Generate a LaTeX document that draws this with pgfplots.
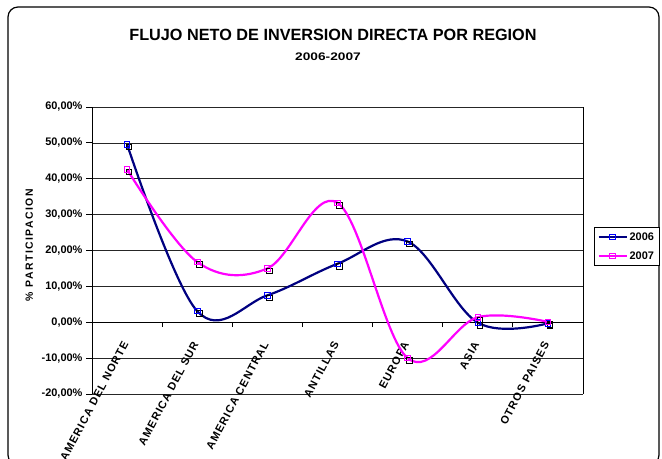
\documentclass[border=0pt]{standalone}
\usepackage{fontspec}
\setmainfont{Liberation Sans}
\usepackage{pgfplots}
\pgfplotsset{compat=1.18}
\definecolor{navyA}{RGB}{0,0,128}
\definecolor{magB}{RGB}{255,0,255}
\begin{document}
\begin{tikzpicture}[x=1bp,y=1bp]
\useasboundingbox (0,0) rectangle (662,459);
\clip (0,0) rectangle (662,459);
\draw[black, line width=1.2bp, rounded corners=10bp] (8,-6) rectangle (659,452);
\node[font=\bfseries\fontsize{16.3}{19}\selectfont] at (333,424) {FLUJO NETO DE INVERSION DIRECTA POR REGION};
\node[font=\bfseries\fontsize{11}{13}\selectfont] at (328,402) {\scalebox{1.25}[1]{2006-2007}};
\begin{axis}[
  at={(92bp,65bp)}, anchor=south west,
  scale only axis, width=491bp, height=287bp,
  xmin=-0.5, xmax=6.5, ymin=-20, ymax=60,
  axis x line*=middle, axis y line*=box,
  axis line style={black, line width=0.9bp},
  ytick={-20,-10,...,60}, ytick pos=left,
  ymajorgrids, major grid style={black!85, line width=0.7bp},
  /pgf/number format/assume math mode=true,
  yticklabel={\pgfmathprintnumber[fixed,fixed zerofill,precision=2,use comma]{\tick}\%},
  tick label style={font=\bfseries\fontsize{11}{13}\selectfont},
  y tick style={black, line width=0.8bp},
  tick align=outside, major tick length=6bp,
  xtick={0,...,6},
  xticklabels={AMERICA DEL NORTE, AMERICA DEL SUR, AMERICA CENTRAL, ANTILLAS, EUROPA, ASIA, OTROS PAISES},
  x tick style={draw=none},
  xticklabel style={rotate=62, anchor=east, font=\bfseries\fontsize{11}{13}\selectfont\addfontfeature{LetterSpace=10}},
  xticklabel shift=11bp,
  ylabel={\% PARTICIPACION},
  ylabel style={at={(axis description cs:-0.128,0.519)}, anchor=center, font=\bfseries\fontsize{10.5}{12}\selectfont\addfontfeature{LetterSpace=14}},
  legend style={at={(1.0224,0.582)}, anchor=north west, draw=black, line width=0.8bp,
    font=\bfseries\fontsize{11}{13}\selectfont, inner sep=3bp, row sep=6bp},
  legend image code/.code={\draw[mark repeat=2,mark phase=2] plot coordinates {(0bp,0bp) (14bp,0bp) (28bp,0bp)};},
  legend cell align=left,
  clip=false,
]
\addplot[only marks, mark=square, mark size=2.8bp, black, mark options={xshift=2bp, yshift=-2.5bp, line width=0.8bp}, forget plot]
  table {
x y
0 49.6
1 3.1
2 7.5
3 16.3
4 22.5
5 -0.1
6 -0.3
};
\addplot[only marks, mark=square, mark size=2.8bp, black, mark options={xshift=2bp, yshift=-2.5bp, line width=0.8bp}, forget plot]
  table {
x y
0 42.6
1 16.8
2 15.0
3 33.3
4 -10.0
5 1.4
6 0.1
};
\addplot[navyA, line width=2.2bp, smooth, tension=0.6, mark=square, mark size=2.8bp, mark options={blue, line width=0.9bp, solid}]
  table {
x y
0 49.6
1 3.1
2 7.5
3 16.3
4 22.5
5 -0.1
6 -0.3
};
\addlegendentry{2006}
\addplot[magB, line width=2.2bp, smooth, tension=0.6, mark=square, mark size=2.8bp, mark options={magB, line width=0.9bp, solid}]
  table {
x y
0 42.6
1 16.8
2 15.0
3 33.3
4 -10.0
5 1.4
6 0.1
};
\addlegendentry{2007}
\pgfplotsinvokeforeach{0.5,1.5,2.5,3.5,4.5,5.5}{
  \draw[black, line width=0.8bp] (axis cs:#1,0) -- ([yshift=-5bp]axis cs:#1,0);
}
\end{axis}
\end{tikzpicture}
\end{document}
